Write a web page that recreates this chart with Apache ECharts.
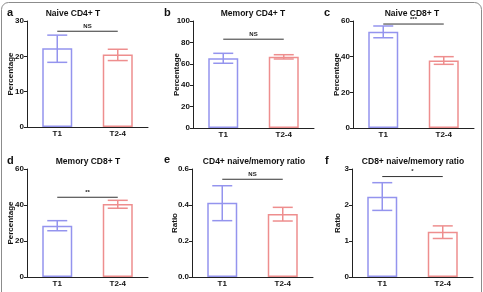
<!DOCTYPE html>
<html>
<head>
<meta charset="utf-8">
<script src="https://cdn.jsdelivr.net/npm/echarts@6/dist/echarts.min.js"></script>
<style>
  html, body { margin: 0; padding: 0; background: #fff; }
  #chart { width: 483px; height: 292px; }
</style>
</head>
<body>
<div id="chart"></div>
<script>
// groups on the x axis
const categories = ['T1', 'T2-4'];

// panel texts
const panelLetters = ['a', 'b', 'c', 'd', 'e', 'f'];
const panelTitles = ['Naive CD4+ T', 'Memory CD4+ T', 'Naive CD8+ T',
  'Memory CD8+ T', 'CD4+ naive/memory ratio', 'CD8+ naive/memory ratio'];
const yNames = ['Percentage', 'Percentage', 'Percentage', 'Percentage', 'Ratio', 'Ratio'];

// y axis ranges
const yMax = [30, 100, 60, 60, 0.6, 3];
const yStep = [10, 20, 20, 20, 0.2, 1];

// bar heights (T1, T2-4)
const meanValues = [
  [22.3, 20.5],
  [65.1, 66.6],
  [54.0, 37.8],
  [28.5, 40.6],
  [0.413, 0.350],
  [2.23, 1.26]
];
// error bar low / high ends (T1, T2-4)
const errLow = [
  [18.3, 18.8],
  [60.5, 64.5],
  [50.6, 35.7],
  [25.7, 38.2],
  [0.313, 0.311],
  [1.85, 1.07]
];
const errHigh = [
  [26.0, 22.0],
  [69.8, 68.5],
  [57.2, 40.0],
  [31.3, 42.6],
  [0.507, 0.387],
  [2.62, 1.42]
];

// significance bracket level and label
const sigLevel = [27.1, 83.0, 58.3, 44.3, 0.543, 2.79];
const sigText = ['NS', 'NS', '***', '**', 'NS', '*'];

const barColors = ['#9494ee', '#ee8e8e'];
const font = '"Liberation Sans", Arial, sans-serif';

// layout of the six panels
const gridLeft = [27, 193, 353, 27, 192, 352];
const gridTop = [21, 21, 21, 169, 169, 169];
const gridH = [106, 107, 107, 108, 108, 108];
const gridW = 121;
const titleX = [73, 253, 412, 88, 254, 413];
const titleY = [14, 14, 14, 162, 162, 162];
const letterX = [7, 164, 324, 7, 164, 325];
const letterY = [13, 13, 13, 161, 160, 161];
const nameGaps = [12, 12, 12, 12, 13, 10];

const chart = echarts.init(document.getElementById('chart'), null, {renderer: 'canvas'});

const grids = [], xAxes = [], yAxes = [], series = [], graphics = [];

graphics.push({
  type: 'rect', z: 100,
  shape: {x: 1.5, y: 2.5, width: 480, height: 320, r: 7},
  style: {fill: 'none', stroke: '#8c8c8c', lineWidth: 1}
});

for (let i = 0; i < 6; i++) {
  grids.push({left: gridLeft[i], top: gridTop[i], width: gridW, height: gridH[i]});
  xAxes.push({
    type: 'category', gridIndex: i, data: categories,
    axisLine: {lineStyle: {color: '#222', width: 1}},
    axisTick: {show: false},
    axisLabel: {color: '#111', fontWeight: 'bold', fontSize: 8, fontFamily: font, margin: 3}
  });
  yAxes.push({
    type: 'value', gridIndex: i, min: 0, max: yMax[i], interval: yStep[i],
    name: yNames[i], nameLocation: 'middle', nameGap: nameGaps[i], nameRotate: 90,
    nameMoveOverlap: false,
    nameTextStyle: {color: '#111', fontWeight: 'bold', fontSize: 8, fontFamily: font},
    axisLine: {show: true, lineStyle: {color: '#222', width: 1}},
    axisTick: {show: true, length: 3, lineStyle: {color: '#222'}},
    splitLine: {show: false},
    axisLabel: {
      color: '#111', fontWeight: 'bold', fontSize: 8, fontFamily: font, margin: 3,
      formatter: v => (i === 4 ? v.toFixed(1) : String(v))
    }
  });

  series.push({
    type: 'bar', xAxisIndex: i, yAxisIndex: i, barWidth: 30,
    data: meanValues[i].map((v, k) => ({
      value: v,
      itemStyle: {color: 'rgba(255,255,255,0)', borderColor: barColors[k], borderWidth: 1.5}
    })),
    silent: true
  });

  series.push({
    type: 'custom', xAxisIndex: i, yAxisIndex: i, silent: true, z: 5,
    data: categories.map((c, k) => [k, errLow[i][k], errHigh[i][k]]),
    renderItem: function (params, api) {
      const k = api.value(0);
      const lo = api.coord([k, api.value(1)]);
      const hi = api.coord([k, api.value(2)]);
      const half = 10;
      const style = {stroke: barColors[k], lineWidth: 1.5};
      return {
        type: 'group',
        children: [
          {type: 'line', shape: {x1: lo[0], y1: lo[1], x2: hi[0], y2: hi[1]}, style: style},
          {type: 'line', shape: {x1: lo[0] - half, y1: lo[1], x2: lo[0] + half, y2: lo[1]}, style: style},
          {type: 'line', shape: {x1: hi[0] - half, y1: hi[1], x2: hi[0] + half, y2: hi[1]}, style: style}
        ]
      };
    }
  });

  series.push({
    type: 'custom', xAxisIndex: i, yAxisIndex: i, silent: true, z: 6,
    data: [[0, 1, sigLevel[i]]],
    renderItem: function (params, api) {
      const a = api.coord([api.value(0), api.value(2)]);
      const b = api.coord([api.value(1), api.value(2)]);
      return {
        type: 'group',
        children: [
          {type: 'line', shape: {x1: a[0], y1: a[1], x2: b[0], y2: b[1]},
            style: {stroke: '#333', lineWidth: 1}},
          {type: 'text', x: (a[0] + b[0]) / 2, y: a[1] - 2,
            style: {text: sigText[i], fill: '#222', font: 'bold 6px ' + font,
              textAlign: 'center', textVerticalAlign: 'bottom'}}
        ]
      };
    }
  });

  graphics.push({
    type: 'text', x: titleX[i], y: titleY[i],
    style: {text: panelTitles[i], fill: '#111', font: 'bold 8.5px ' + font,
      textAlign: 'center', textVerticalAlign: 'middle'}
  });
  graphics.push({
    type: 'text', x: letterX[i], y: letterY[i],
    style: {text: panelLetters[i], fill: '#111', font: 'bold 11px ' + font,
      textAlign: 'left', textVerticalAlign: 'middle'}
  });
}

chart.setOption({
  animation: false,
  backgroundColor: '#fff',
  grid: grids,
  xAxis: xAxes,
  yAxis: yAxes,
  series: series,
  graphic: graphics
});
</script>
</body>
</html>
